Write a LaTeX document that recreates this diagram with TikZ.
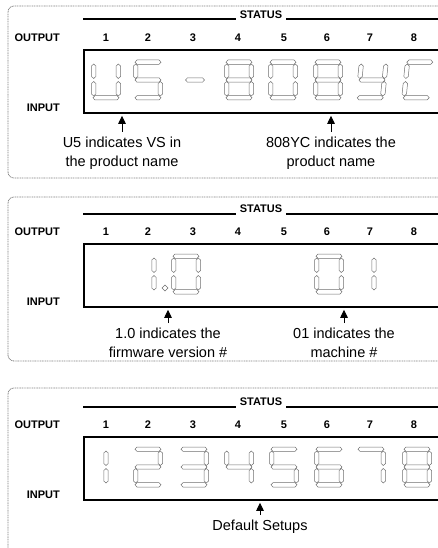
\documentclass[tikz,border=0pt]{standalone}
\usepackage{fontspec}
\setmainfont{Liberation Sans}
\usepackage{tikz}
\usetikzlibrary{arrows.meta,positioning}
\definecolor{segray}{HTML}{6E6E6E}
\definecolor{framegray}{HTML}{808080}
\tikzset{
  panelframe/.style={
    draw=framegray, line width=0.8pt, dash pattern=on 1pt off 0.7pt,
    rounded corners=6pt
  },
  dispbox/.style={
    rectangle, draw=black, line width=1.8pt, inner sep=0pt,
    minimum width=400pt, minimum height=63pt, anchor=north west
  },
  rowlabel/.style={font=\fontsize{11}{12}\selectfont\bfseries, inner sep=0pt},
  statuslabel/.style={rowlabel, fill=white, inner xsep=4pt, inner ysep=2pt, anchor=base},
  notetext/.style={font=\fontsize{14.5}{18.5}\selectfont, align=center, inner sep=0pt, anchor=north},
  notearrow/.style={-{Triangle[length=8pt,width=7.5pt]}, line width=1pt, shorten >=2pt, shorten <=5pt},
  segline/.style={draw=segray, line width=0.5pt},
}
% segments of a display digit, the cell is 29 wide and 40 high
\newcommand{\hseg}[3]{\draw[segline] (#1,#2) -- ++(2,-2.2) -- ++(#3,0) -- ++(2,2.2) -- ++(-2,2.2) -- ++(-#3,0) -- cycle;}
\newcommand{\vseg}[2]{\draw[segline] (#1,#2) -- ++(2.2,2) -- ++(0,10.5) -- ++(-2.2,2) -- ++(-2.2,-2) -- ++(0,-10.5) -- cycle;}
\newcommand{\segA}{\hseg{1.5}{2.2}{22}}
\newcommand{\segB}{\vseg{26.8}{4}}
\newcommand{\segC}{\vseg{26.8}{21.5}}
\newcommand{\segD}{\hseg{1.5}{37.8}{22}}
\newcommand{\segE}{\vseg{2.2}{21.5}}
\newcommand{\segF}{\vseg{2.2}{4}}
\newcommand{\segG}{\hseg{1.5}{20}{22}}
\newcommand{\segH}{\hseg{5}{20}{15}}
\newcommand{\segI}{\vseg{14.5}{4}}
\newcommand{\segJ}{\vseg{14.5}{21.5}}
\newcommand{\digit}[4][]{%
  \begin{scope}[shift={(#2-14.5,#3)}, #1]
    \foreach \s in {#4} {\csname seg\s\endcsname}
  \end{scope}}

\begin{document}
\begin{tikzpicture}[x=1pt, y=-1pt]
  \useasboundingbox (0,0) rectangle (437,548);

  % frame, status bar, labels and display window of each panel
  \foreach \p/\dy/\ptop/\pbot in {1/0/6/178, 2/194/197/361, 3/387/388/620} {
    \draw[panelframe] (470,\ptop) -| (8,\pbot) -- (470,\pbot);
    \draw[line width=2pt] (83,19.5+\dy) -- (470,19.5+\dy);
    \node[statuslabel] (stat\p) at (261,18.5+\dy) {STATUS};
    \node[rowlabel, anchor=east] (out\p) at (60,38+\dy) {OUTPUT};
    \node[rowlabel, anchor=east] (in\p) at (60,108+\dy) {INPUT};
    \foreach \x [count=\n] in {106,148,193,238,284,327,370,414}
      \node[rowlabel] (num\p-\n) at (\x,38+\dy) {\n};
    \node[dispbox] (disp\p) at (83,49+\dy) {};
  }

  % panel 1: product name
  \digit{106}{60}{B,C,D,E,F}
  \digit{148}{60}{A,F,G,C,D}
  \digit{195}{60}{H}
  \digit{239}{60}{A,B,C,D,E,F,G}
  \digit{283}{60}{A,B,C,D,E,F}
  \digit{328}{60}{A,B,C,D,E,F,G}
  \digit[xslant=0.1]{374}{60}{B,C,D,F,G}
  \digit[xslant=0.1]{420}{60}{A,D,E,F}

  \node[notetext] (vsnote) at (122,137) {U5 indicates VS in\\the product name};
  \node[notetext] (namenote) at (331,137) {808YC indicates the\\product name};
  \draw[notearrow] (vsnote.north) -- (vsnote.north |- disp1.south);
  \draw[notearrow] (namenote.north) -- (namenote.north |- disp1.south);

  % panel 2: firmware and machine number
  \digit{154}{254}{I,J}
  \draw[segline] (165,285) -- (168,288) -- (165,291) -- (162,288) -- cycle;
  \digit{186}{254}{A,B,C,D,E,F}
  \digit{329}{254}{A,B,C,D,E,F}
  \digit{374}{254}{I,J}

  \node[notetext] (fwnote) at (168,328) {1.0 indicates the\\firmware version \#};
  \node[notetext] (machnote) at (344,328) {01 indicates the\\machine \#};
  \draw[notearrow] (fwnote.north) -- (fwnote.north |- disp2.south);
  \draw[notearrow] (machnote.north) -- (machnote.north |- disp2.south);

  % panel 3: default setups
  \digit{106}{447}{I,J}
  \digit{148}{447}{A,B,G,E,D}
  \digit{194}{447}{A,B,G,C,D}
  \digit{239}{447}{F,G,B,C}
  \digit{284}{447}{A,F,G,C,D}
  \digit{329}{447}{A,F,G,E,C,D}
  \digit{371}{447}{A,B,C}
  \digit{417}{447}{A,B,C,D,E,F,G}

  \node[notetext] (defnote) at (260,520) {Default Setups};
  \draw[notearrow] (defnote.north) -- (defnote.north |- disp3.south);
\end{tikzpicture}
\end{document}
